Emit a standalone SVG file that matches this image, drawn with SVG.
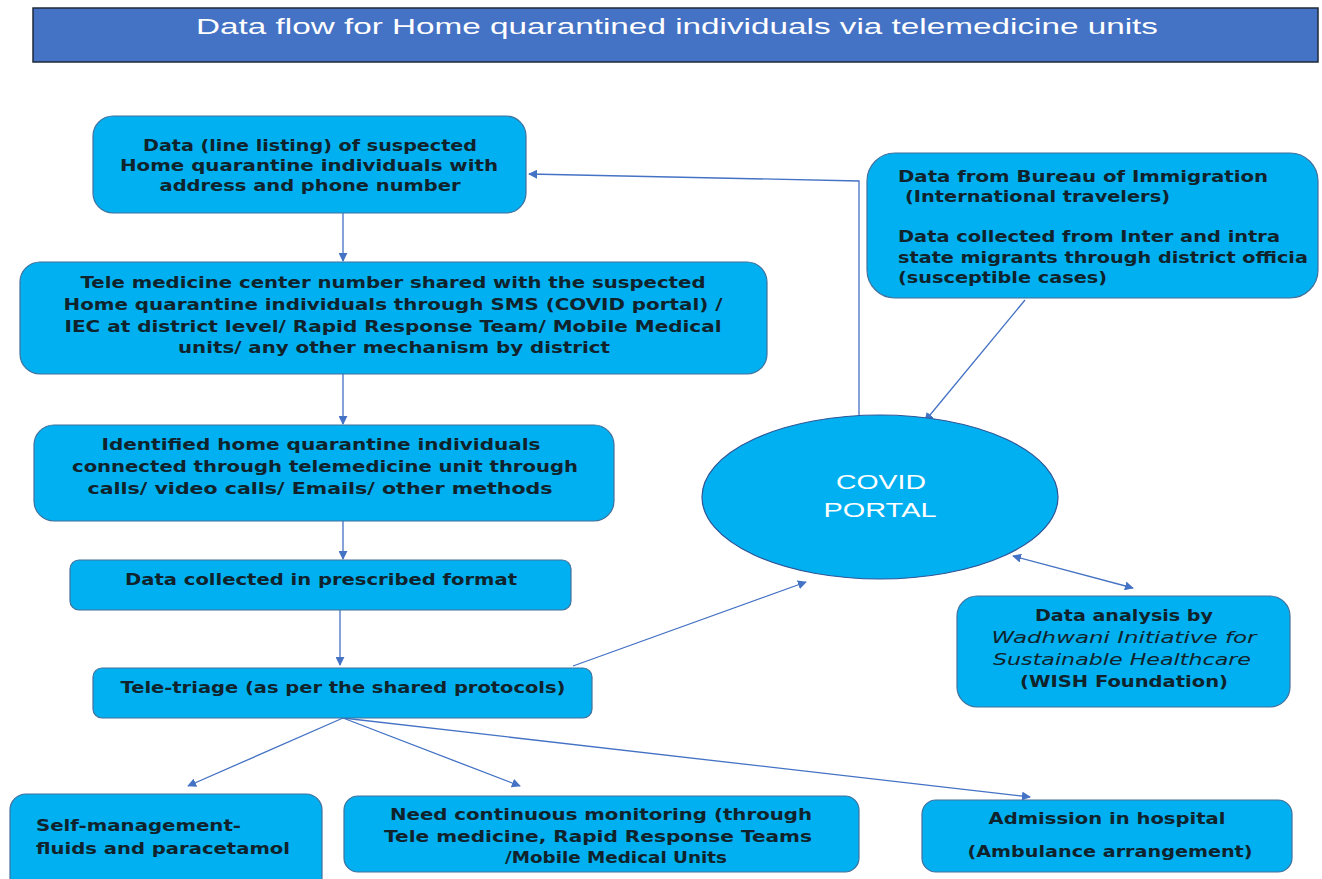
<svg xmlns="http://www.w3.org/2000/svg" width="1322" height="879" viewBox="0 0 1322 879">
<style>
.box{fill:#00B0F0;stroke:#41719C;stroke-width:1.2}
.t{font-family:"DejaVu Sans",Verdana,sans-serif;font-weight:bold;font-size:15px;fill:#10232c;lengthAdjust:spacingAndGlyphs}
.c{text-anchor:middle}
.it{font-style:italic;font-weight:normal}
.w{font-family:"Liberation Sans",Arial,sans-serif;fill:#ffffff}
.ln{fill:none;stroke:#4472C4;stroke-width:1.3}
</style>
<defs>
<marker id="ah" viewBox="0 0 10 10" refX="9" refY="5" markerWidth="9" markerHeight="9" markerUnits="userSpaceOnUse" orient="auto-start-reverse">
<path d="M0,0 L10,5 L0,10 z" fill="#4472C4"/>
</marker>
<clipPath id="clipR"><rect x="867" y="153" width="441" height="146"/></clipPath>
</defs>
<rect width="1322" height="879" fill="#ffffff"/>
<g id="title">
<rect x="33" y="8" width="1285" height="54" fill="#4472C4" stroke="#1f2a3a" stroke-width="1.5"/>
<text class="w" x="196" y="34" font-size="22" textLength="962" lengthAdjust="spacingAndGlyphs">Data flow for Home quarantined individuals via telemedicine units</text>
</g>
<g id="connectors">
<polyline class="ln" points="859,415 859,181 529,174" marker-end="url(#ah)"/>
<line class="ln" x1="343" y1="213" x2="343" y2="261" marker-end="url(#ah)"/>
<line class="ln" x1="343" y1="374" x2="343" y2="424" marker-end="url(#ah)"/>
<line class="ln" x1="343" y1="521" x2="343" y2="559" marker-end="url(#ah)"/>
<line class="ln" x1="340" y1="610" x2="340" y2="665" marker-end="url(#ah)"/>
<line class="ln" x1="573" y1="666" x2="806" y2="582" marker-end="url(#ah)"/>
<line class="ln" x1="1025" y1="300" x2="925" y2="421" marker-end="url(#ah)"/>
<line class="ln" x1="1013" y1="556" x2="1133" y2="588" marker-start="url(#ah)" marker-end="url(#ah)"/>
<line class="ln" x1="343" y1="718" x2="188" y2="786" marker-end="url(#ah)"/>
<line class="ln" x1="343" y1="718" x2="520" y2="786" marker-end="url(#ah)"/>
<line class="ln" x1="343" y1="718" x2="1030" y2="797" marker-end="url(#ah)"/>
</g>
<g id="n-line-listing">
<rect class="box" x="93" y="116" width="433" height="97" rx="20"/>
<text class="t c" x="310" y="151" textLength="334" lengthAdjust="spacingAndGlyphs">Data (line listing) of suspected</text>
<text class="t c" x="309" y="171" textLength="378" lengthAdjust="spacingAndGlyphs">Home quarantine individuals with</text>
<text class="t c" x="310" y="191" textLength="301" lengthAdjust="spacingAndGlyphs">address and phone number</text>
</g>
<g id="n-telemedicine-number">
<rect class="box" x="20" y="262" width="747" height="112" rx="20"/>
<text class="t c" x="393" y="288" textLength="625" lengthAdjust="spacingAndGlyphs">Tele medicine center number shared with the suspected</text>
<text class="t c" x="393" y="310" textLength="659" lengthAdjust="spacingAndGlyphs">Home quarantine individuals through SMS (COVID portal) /</text>
<text class="t c" x="393" y="332" textLength="657" lengthAdjust="spacingAndGlyphs">IEC at district level/ Rapid Response Team/ Mobile Medical</text>
<text class="t c" x="394" y="353" textLength="432" lengthAdjust="spacingAndGlyphs">units/ any other mechanism by district</text>
</g>
<g id="n-identified">
<rect class="box" x="34" y="425" width="580" height="96" rx="20"/>
<text class="t c" x="321" y="450" textLength="439" lengthAdjust="spacingAndGlyphs">Identified home quarantine individuals</text>
<text class="t c" x="325" y="472" textLength="506" lengthAdjust="spacingAndGlyphs">connected through telemedicine unit through</text>
<text class="t c" x="320" y="494" textLength="465" lengthAdjust="spacingAndGlyphs">calls/ video calls/ Emails/ other methods</text>
</g>
<g id="n-data-collected">
<rect class="box" x="70" y="560" width="501" height="50" rx="9"/>
<text class="t c" x="321" y="585" textLength="392" lengthAdjust="spacingAndGlyphs">Data collected in prescribed format</text>
</g>
<g id="n-tele-triage">
<rect class="box" x="93" y="668" width="499" height="50" rx="9"/>
<text class="t c" x="343" y="693" textLength="445" lengthAdjust="spacingAndGlyphs">Tele-triage (as per the shared protocols)</text>
</g>
<g id="n-sources">
<rect class="box" x="867" y="153" width="451" height="145" rx="28"/>
<g clip-path="url(#clipR)">
<text class="t" x="898" y="182" textLength="370" lengthAdjust="spacingAndGlyphs">Data from Bureau of Immigration</text>
<text class="t" x="905" y="202" textLength="265" lengthAdjust="spacingAndGlyphs">(International travelers)</text>
<text class="t" x="898" y="242" textLength="382" lengthAdjust="spacingAndGlyphs">Data collected from Inter and intra</text>
<text class="t" x="898" y="263" textLength="428" lengthAdjust="spacingAndGlyphs">state migrants through district officials</text>
<text class="t" x="898" y="283" textLength="209" lengthAdjust="spacingAndGlyphs">(susceptible cases)</text>
</g>
</g>
<g id="n-covid-portal">
<ellipse cx="880" cy="497" rx="178" ry="82" fill="#00B0F0" stroke="#2F5597" stroke-width="1.2"/>
<text class="w" x="881" y="489" font-size="21" text-anchor="middle" textLength="90" lengthAdjust="spacingAndGlyphs">COVID</text>
<text class="w" x="880" y="517" font-size="21" text-anchor="middle" textLength="113" lengthAdjust="spacingAndGlyphs">PORTAL</text>
</g>
<g id="n-wish">
<rect class="box" x="957" y="596" width="333" height="111" rx="20"/>
<text class="t c" x="1124" y="621" textLength="178" lengthAdjust="spacingAndGlyphs">Data analysis by</text>
<text class="t c it" x="1124" y="643" textLength="265" lengthAdjust="spacingAndGlyphs">Wadhwani Initiative for</text>
<text class="t c it" x="1122" y="665" textLength="258" lengthAdjust="spacingAndGlyphs">Sustainable Healthcare</text>
<text class="t c" x="1124" y="687" textLength="208" lengthAdjust="spacingAndGlyphs">(WISH Foundation)</text>
</g>
<g id="n-self-management">
<rect class="box" x="10" y="794" width="312" height="100" rx="16"/>
<text class="t" x="36" y="831" textLength="205" lengthAdjust="spacingAndGlyphs">Self-management-</text>
<text class="t" x="36" y="854" textLength="254" lengthAdjust="spacingAndGlyphs">fluids and paracetamol</text>
</g>
<g id="n-monitoring">
<rect class="box" x="344" y="796" width="515" height="76" rx="14"/>
<text class="t c" x="601" y="820" textLength="422" lengthAdjust="spacingAndGlyphs">Need continuous monitoring (through</text>
<text class="t c" x="598" y="842" textLength="428" lengthAdjust="spacingAndGlyphs">Tele medicine, Rapid Response Teams</text>
<text class="t c" x="616" y="863" textLength="222" lengthAdjust="spacingAndGlyphs">/Mobile Medical Units</text>
</g>
<g id="n-admission">
<rect class="box" x="922" y="800" width="370" height="72" rx="14"/>
<text class="t c" x="1107" y="824" textLength="237" lengthAdjust="spacingAndGlyphs">Admission in hospital</text>
<text class="t c" x="1110" y="857" textLength="285" lengthAdjust="spacingAndGlyphs">(Ambulance arrangement)</text>
</g>
</svg>
